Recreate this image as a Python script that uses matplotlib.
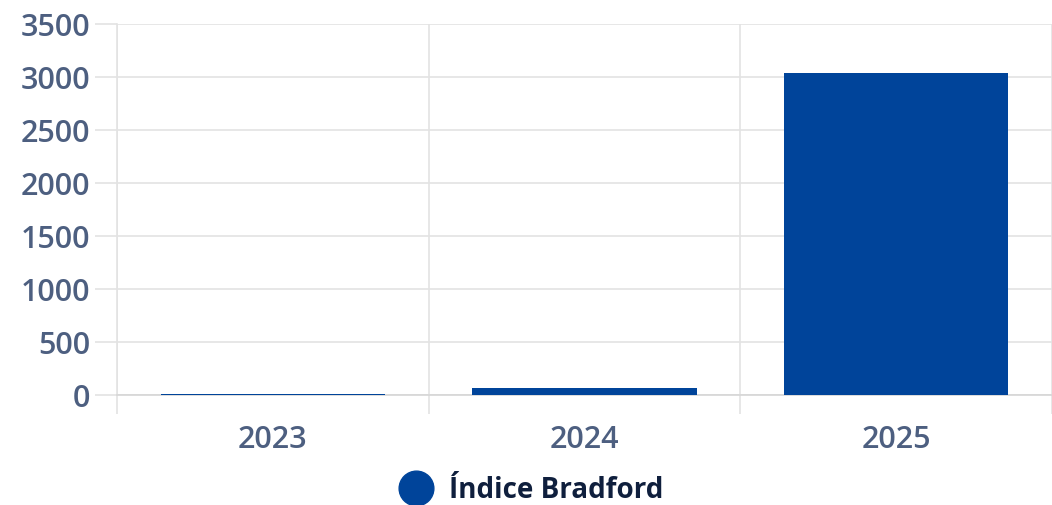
import matplotlib.pyplot as plt
from matplotlib.lines import Line2D

years = ["2023", "2024", "2025"]
bradford = [6, 66, 3038]
yticks = [0, 500, 1000, 1500, 2000, 2500, 3000, 3500]

plt.rcParams['font.family'] = ['Open Sans', 'DejaVu Sans']

fig = plt.figure(figsize=(10.52, 5.06), dpi=100)
ax = fig.add_axes([0.1112, 0.2174, 0.8888, 0.7332])

pos = list(range(len(years)))
ax.bar(pos, bradford, width=0.72, color="#00449A", zorder=3)

ax.set_xlim(-0.5, len(years) - 0.5)
ax.set_ylim(0, 3500)
ax.set_yticks(yticks)
ax.set_yticklabels([str(v) for v in yticks])
ax.set_xticks(pos)
ax.set_xticklabels(years)
ax.set_xticks([p - 0.5 for p in pos] + [len(years) - 0.5], minor=True)

grid_c = "#e3e3e3"
ax.grid(axis="y", color=grid_c, linewidth=1.2, zorder=0)
ax.grid(axis="x", which="minor", color=grid_c, linewidth=1.2, zorder=0)
for s in ["top", "right"]:
    ax.spines[s].set_visible(False)
ax.spines["left"].set_color(grid_c)
ax.spines["bottom"].set_color("#d6d6d6")
ax.spines["left"].set_linewidth(1.2)
ax.spines["bottom"].set_linewidth(1.2)

lab_c = "#4d5f80"
ax.tick_params(axis="y", length=16, color=grid_c, width=1.2, pad=3,
               labelsize=22, labelcolor=lab_c)
ax.tick_params(axis="x", which="major", length=0, pad=21,
               labelsize=22, labelcolor=lab_c)
ax.tick_params(axis="x", which="minor", length=14, color=grid_c, width=1.2)
for t in ax.get_yticklabels() + ax.get_xticklabels():
    t.set_fontweight("semibold")

handle = Line2D([], [], marker="o", linestyle="none", markersize=25,
                markerfacecolor="#00449A", markeredgecolor="#00449A")
fig.legend([handle], ["Índice Bradford"], loc="center", bbox_to_anchor=(0.5, 0.03),
           frameon=False, handletextpad=0.2, prop={"size": 20, "weight": "bold"},
           labelcolor="#0f1f3d")

fig.savefig("out.png", dpi=100)
